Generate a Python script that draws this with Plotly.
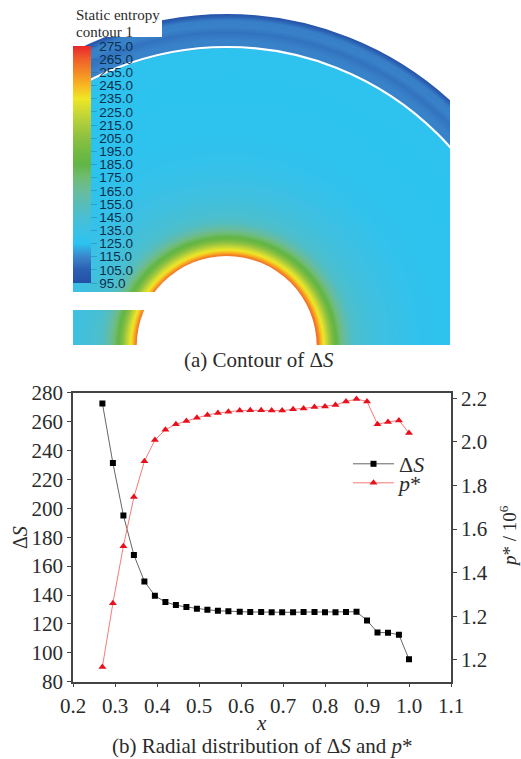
import numpy as np
import plotly.graph_objects as go

# ---- line chart data
x_pos = [0.27,0.295,0.32,0.345,0.37,0.395,0.42,0.445,0.47,0.495,0.52,0.545,0.57,0.597,0.622,0.648,
         0.673,0.698,0.724,0.749,0.775,0.80,0.825,0.85,0.875,0.90,0.925,0.95,0.976,1.0]
delta_s = [272.6,231.3,195.1,167.7,149.4,139.5,135.1,133.0,131.7,130.5,129.8,129.1,128.7,128.4,128.2,128.2,
           128.0,128.0,128.0,128.2,128.2,128.0,128.0,128.2,128.4,122.4,114.1,113.9,112.5,95.5]
p_star = [0.968,1.26,1.522,1.747,1.911,2.009,2.056,2.081,2.096,2.111,2.124,2.133,2.139,2.144,2.145,2.145,
          2.144,2.144,2.150,2.154,2.160,2.163,2.169,2.186,2.197,2.186,2.081,2.092,2.099,2.041]
left_ticks = [80,100,120,140,160,180,200,220,240,260,280]
right_ticks = [1.0,1.2,1.4,1.6,1.8,2.0,2.2]
right_labels = ["1.2","1.2","1.4","1.6","1.8","2.0","2.2"]   # as printed in the source
x_ticks = [0.2,0.3,0.4,0.5,0.6,0.7,0.8,0.9,1.0,1.1]

# ---- contour panel: radial profile of static entropy
profile_r = [90,92,94,96.5,100,104,108,112,117,125,135,150,170,190,210,260,297,301,306,314,320,326,330,332]
profile_s = [262,255,245,235,222,205,188,178,165,150,144,138,133,129,127,126,127,114,114,110,114,113,105,98]
colorbar_ticks = list(range(95,276,10))
colorbar_vals = [95,105,115,125,135,145,155,165,175,185,195,205,215,225,235,245,255,265,275]
colorbar_cols = ["#2450a6","#2a5fb2","#3a86cc","#2bc3f0","#3cc0e4","#48bfd2","#58bdb8","#68bc9c","#6fbc74","#62b545",
                 "#72ba42","#8cc040","#aacb3c","#cbd934","#efe625","#f8b723","#f48a24","#ef5f2a","#e8262c"]

W, H = 521, 759
IMG_L, IMG_R, IMG_T, IMG_B = 73, 450, 14, 345
CX, CY = 226.7, 346
HOLE, GAP, OUTER = 90, 299, 332
PL, PR, PT, PB = 73, 451, 392.7, 681.7

gx = np.arange(IMG_L - CX, IMG_R - CX + 1, 1.0)
gy = np.arange(CY - IMG_B, CY - IMG_T + 1, 1.0)
XX, YY = np.meshgrid(gx, gy)
RR = np.hypot(XX, YY)
field = np.interp(RR, profile_r, profile_s)

span = 275 - 95
scale = [[(v - 95) / span, c] for v, c in zip(colorbar_vals, colorbar_cols)]

fig = go.Figure()
fig.add_trace(go.Heatmap(
    x=gx, y=gy, z=field, xaxis="x2", yaxis="y2", zmin=95, zmax=275, colorscale=scale, zsmooth="best",
    hoverinfo="skip", showlegend=False,
    colorbar=dict(
        x=IMG_L / W, xanchor="left", xpad=0, ypad=0, thickness=18, thicknessmode="pixels",
        len=237, lenmode="pixels", y=1 - 46 / H, yanchor="top", outlinewidth=0,
        tickmode="array", tickvals=colorbar_ticks, tickformat=".1f", ticks="outside", ticklen=6,
        tickcolor="rgba(20,90,130,0.3)", tickwidth=1,
        tickfont=dict(family="Liberation Sans", size=13.5, color="#0c2f4c"),
    ),
))
fig.add_trace(go.Scatter(
    x=x_pos, y=delta_s, name="Δ<i>S</i>", mode="lines+markers", xaxis="x", yaxis="y", legend="legend",
    showlegend=True,
    line=dict(color="#666666", width=1), marker=dict(symbol="square", size=6, color="#000000"),
))
fig.add_trace(go.Scatter(
    x=x_pos, y=p_star, name="<i>p</i>*", mode="lines+markers", xaxis="x", yaxis="y3", legend="legend2",
    showlegend=True,
    line=dict(color="#f77a7a", width=1), marker=dict(symbol="triangle-up", size=7, color="#e8101c"),
))

TXT = "#2b2b2b"
tick_font = dict(family="Liberation Serif", size=21, color=TXT)
ax_line = dict(showline=True, linecolor="#444444", linewidth=1.5, ticks="outside", ticklen=4,
               tickcolor="#444444", tickwidth=1.2, showgrid=False, zeroline=False, tickfont=tick_font)

def mask(kind, x0, y0, x1, y1, **kw):
    return dict(type=kind, xref="x2", yref="y2", x0=x0, y0=y0, x1=x1, y1=y1, layer="above", **kw)

white = dict(fillcolor="white", line=dict(width=0))
BAND = 400
shapes = [
    mask("circle", -HOLE, -HOLE, HOLE, HOLE, **white),
    mask("circle", -GAP, -GAP, GAP, GAP, fillcolor="rgba(0,0,0,0)", line=dict(color="white", width=2.2)),
    mask("circle", -(OUTER + BAND / 2), -(OUTER + BAND / 2), OUTER + BAND / 2, OUTER + BAND / 2,
         fillcolor="rgba(0,0,0,0)", line=dict(color="white", width=BAND)),
    mask("rect", IMG_L - CX - 1, CY - 310, 0, CY - 292, **white),
    mask("rect", IMG_L - CX - 1, CY - 37, 162 - CX, CY - IMG_T + 1, **white),
]

def label(text, px, py, size=19, xanchor="center", **kw):
    return dict(text=text, x=px / W, y=1 - py / H, xref="paper", yref="paper", showarrow=False,
                xanchor=xanchor, yanchor="middle",
                font=dict(family="Liberation Serif", size=size, color=TXT), **kw)

annotations = [
    label("Static entropy", 74, 15, size=15, xanchor="left"),
    label("contour 1", 74, 32, size=15, xanchor="left"),
    label("(a) Contour of Δ<i>S</i>", 259, 360, size=21),
    label("(b) Radial distribution of Δ<i>S</i> and <i>p</i>*", 262, 746, size=21),
    label("<i>x</i>", 261, 723, size=21),
    label("Δ<i>S</i>", 20, 538, size=20, textangle=-90),
    label("<i>p</i>* / 10<sup>6</sup>", 508, 536, size=19, textangle=-90),
]

legend_common = dict(x=348 / W, xanchor="left", yanchor="top", bgcolor="rgba(0,0,0,0)",
                     font=dict(family="Liberation Serif", size=22, color=TXT), itemwidth=41)

fig.update_layout(
    width=W, height=H, margin=dict(l=0, r=0, t=0, b=0, autoexpand=False), autosize=False,
    paper_bgcolor="white", plot_bgcolor="white", showlegend=True,
    shapes=shapes, annotations=annotations,
    xaxis=dict(domain=[PL / W, PR / W], range=[0.2, 1.1], tickvals=x_ticks, tickformat=".1f", anchor="y",
               mirror=True, **ax_line),
    yaxis=dict(domain=[1 - PB / H, 1 - PT / H], range=[80, 280], tickvals=left_ticks, anchor="x", **ax_line),
    yaxis3=dict(domain=[1 - PB / H, 1 - PT / H], range=[0.9, 2.226], tickvals=right_ticks, ticktext=right_labels,
                overlaying="y", side="right", anchor="x", **ax_line),
    xaxis2=dict(domain=[IMG_L / W, IMG_R / W], range=[IMG_L - CX, IMG_R - CX], visible=False, anchor="y2"),
    yaxis2=dict(domain=[1 - IMG_B / H, 1 - IMG_T / H], range=[CY - IMG_B, CY - IMG_T], visible=False, anchor="x2"),
    legend=dict(y=1 - 443 / H, **legend_common),
    legend2=dict(y=1 - 462 / H, **legend_common),
)

fig.write_html("out.html", config=dict(displayModeBar=False),
               post_script="document.body.style.margin='0';")
